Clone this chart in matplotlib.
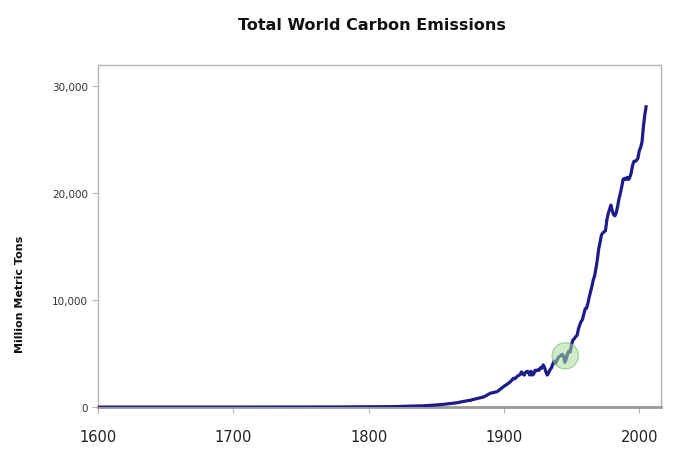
"""Total world carbon emissions line chart."""

import matplotlib
matplotlib.use("Agg")
import matplotlib.pyplot as plt
from matplotlib.patches import Ellipse
from matplotlib.ticker import FuncFormatter

# emissions, million metric tons
years = [
    1600, 1700, 1750, 1775, 1800, 1810, 1820, 1830, 1840, 1850,
    1855, 1860, 1865, 1870, 1875, 1880, 1885, 1890, 1895, 1900,
    1903, 1905, 1907, 1908, 1910, 1912, 1913, 1914, 1915, 1916,
    1917, 1918, 1919, 1920, 1921, 1922, 1923, 1924, 1925, 1926,
    1927, 1928, 1929, 1930, 1931, 1932, 1933, 1934, 1935, 1936,
    1937, 1938, 1939, 1940, 1941, 1942, 1943, 1944, 1945, 1946,
    1947, 1948, 1949, 1950, 1951, 1952, 1953, 1954, 1955, 1956,
    1957, 1958, 1959, 1960, 1961, 1962, 1963, 1964, 1965, 1966,
    1967, 1968, 1969, 1970, 1971, 1972, 1973, 1974, 1975, 1976,
    1977, 1978, 1979, 1980, 1981, 1982, 1983, 1984, 1985, 1986,
    1987, 1988, 1989, 1990, 1991, 1992, 1993, 1994, 1995, 1996,
    1997, 1998, 1999, 2000, 2001, 2002, 2003, 2004, 2005,
]
emissions = [
    0, 0, 10, 15, 30, 40, 50, 90, 120, 200,
    260, 330, 400, 530, 640, 800, 950, 1300, 1450, 1950,
    2200, 2400, 2700, 2650, 2900, 3050, 3300, 3100, 3000, 3250,
    3350, 3300, 3000, 3350, 3000, 3100, 3450, 3400, 3500, 3450,
    3700, 3650, 3950, 3700, 3300, 3000, 3200, 3500, 3650, 4000,
    4300, 4100, 4350, 4600, 4750, 4800, 4950, 4800, 4200, 4500,
    5000, 5250, 5150, 5900, 6300, 6400, 6600, 6700, 7300, 7700,
    8000, 8200, 8700, 9200, 9250, 9700, 10300, 10800, 11300, 11900,
    12300, 13000, 13800, 14800, 15400, 16100, 16300, 16400, 16500, 17500,
    18100, 18500, 18900, 18400, 18000, 17900, 18200, 18800, 19500, 20000,
    20600, 21300, 21400, 21300, 21500, 21300, 21500, 21900, 22600, 23000,
    23000, 23100, 23300, 24000, 24300, 24800, 26200, 27300, 28100,
]

x_ticks = [1600, 1700, 1800, 1900, 2000]
y_ticks = [0, 10000, 20000, 30000]

# highlighted spot around the end of WWII
highlight_year = 1945.3
highlight_value = 4800

LINE = "#1c1c8a"
FRAME = "#b4b4b4"

fig = plt.figure(figsize=(6.8, 4.56), dpi=100)
fig.patch.set_facecolor("white")
ax = fig.add_axes([0.144, 0.105, 0.828, 0.750])

ax.plot(years, emissions, color=LINE, linewidth=2.3, solid_joinstyle="round", zorder=3)

ax.add_patch(Ellipse(
    (highlight_year, highlight_value), width=19.5, height=2450,
    facecolor="#a8dc9c", edgecolor="#6cbf5f", alpha=0.55, linewidth=1.0, zorder=4,
))

ax.set_xlim(1600, 2016)
ax.set_ylim(0, 32000)
ax.set_xticks(x_ticks)
ax.set_yticks(y_ticks)
ax.yaxis.set_major_formatter(FuncFormatter(lambda v, _: f"{v:,.0f}"))

for side in ("top", "right", "left"):
    ax.spines[side].set_color(FRAME)
    ax.spines[side].set_linewidth(1.0)
ax.spines["bottom"].set_color("#999999")
ax.spines["bottom"].set_linewidth(2.0)

ax.tick_params(axis="x", direction="out", length=4, width=0.8, color=FRAME,
               labelsize=10.5, labelcolor="#222222", pad=12)
ax.tick_params(axis="y", direction="out", length=4, width=0.8, color=FRAME,
               labelsize=7.5, labelcolor="#333333", pad=3)

fig.text(0.030, 0.355, "Million Metric Tons", rotation=90, ha="center", va="center",
         fontsize=8, fontweight="bold", color="#111111")
fig.text(0.547, 0.944, "Total World Carbon Emissions", ha="center", va="center",
         fontsize=11.5, fontweight="bold", color="#111111")

fig.savefig("out.png", dpi=100, facecolor="white")
